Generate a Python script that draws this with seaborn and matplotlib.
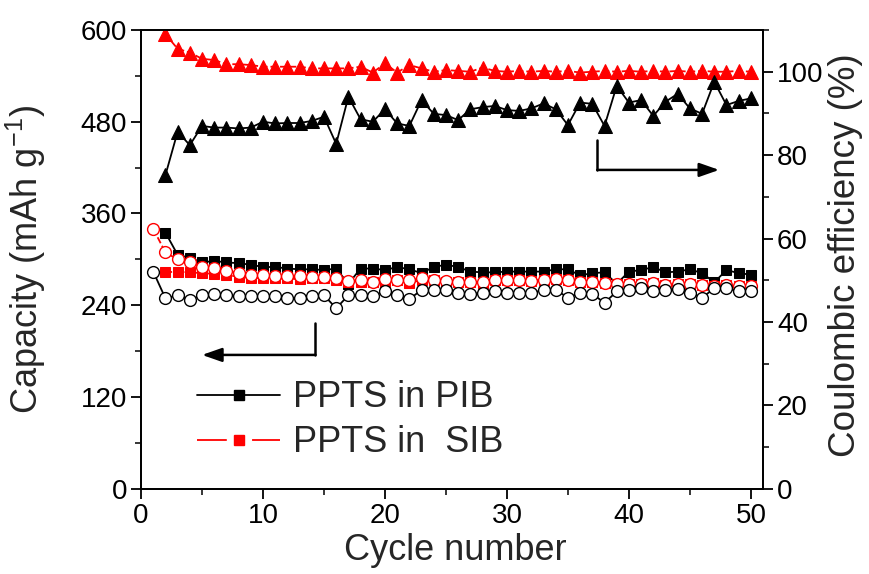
import matplotlib
matplotlib.use("Agg")
import matplotlib.pyplot as plt
from matplotlib.lines import Line2D
from matplotlib.ticker import MultipleLocator
import seaborn as sns
import numpy as np

sns.set_theme(style="white")
plt.rcParams['font.family'] = ['Liberation Sans', 'DejaVu Sans']
plt.rcParams['mathtext.fontset'] = 'custom'
plt.rcParams['mathtext.rm'] = 'Liberation Sans'

# ---------------- data ----------------
cycles_all = list(range(1, 51))
cycles_from2 = list(range(2, 51))

# PIB (black)
pib_charge = [335, 306, 302, 296, 298, 296, 295, 293, 290, 290, 288, 287, 287, 286, 288, 268,
              288, 288, 286, 290, 287, 282, 290, 293, 290, 284, 283, 283, 284, 284, 284, 284,
              287, 287, 279, 282, 283, 268, 284, 286, 290, 283, 284, 287, 282, 270, 286, 282, 280]
pib_discharge = [284, 249, 253, 247, 253, 255, 253, 252, 252, 252, 252, 250, 249, 252, 253, 236,
                 253, 253, 252, 258, 253, 248, 260, 260, 260, 256, 255, 256, 258, 256, 256, 256,
                 260, 260, 250, 256, 255, 243, 258, 260, 263, 258, 260, 261, 256, 250, 262, 262,
                 258, 258]
pib_ce = [75.2, 85.6, 82.4, 87.0, 86.6, 86.6, 86.4, 86.6, 88.0, 87.6, 87.7, 87.7, 88.2, 89.2,
          82.7, 94.0, 88.6, 88.0, 91.0, 87.6, 87.0, 93.2, 89.9, 89.6, 88.4, 91.0, 91.5, 91.8,
          90.8, 90.6, 91.2, 92.4, 91.0, 87.2, 92.6, 92.3, 87.0, 96.6, 92.6, 93.2, 89.4, 92.8,
          94.7, 91.2, 89.9, 97.6, 92.0, 93.0, 93.6]

# SIB (red)
sib_charge = [283, 284, 283, 282, 281, 280, 277, 276, 275, 275, 275, 274, 275, 275, 273, 270,
              270, 271, 269, 273, 269, 273, 273, 271, 271, 270, 268, 273, 273, 273, 272, 273,
              274, 273, 271, 271, 269, 268, 268, 268, 269, 266, 268, 268, 266, 265, 266, 265, 265]
sib_discharge = [340, 309, 300, 296, 290, 289, 285, 282, 280, 279, 278, 278, 278, 277, 277, 275,
                 272, 273, 271, 274, 273, 273, 275, 273, 272, 271, 270, 271, 273, 273, 273, 272,
                 273, 274, 273, 271, 271, 269, 268, 268, 268, 269, 266, 268, 268, 266, 265, 266,
                 265, 265]
sib_ce = [109.0, 105.5, 104.6, 103.1, 102.8, 101.8, 101.8, 101.6, 101.2, 101.2, 101.2, 101.2,
          100.8, 100.8, 100.8, 100.8, 101.2, 99.8, 102.0, 99.8, 101.6, 100.8, 100.0, 100.4,
          100.2, 100.0, 101.0, 100.2, 100.0, 100.2, 100.0, 100.2, 100.0, 100.2, 99.8, 100.0,
          100.2, 100.0, 100.2, 100.0, 100.2, 100.0, 100.2, 100.0, 100.2, 100.0, 100.0, 100.2,
          100.0]

legend_labels = ["PPTS in PIB", "PPTS in  SIB"]

# ---------------- figure ----------------
fig = plt.figure(figsize=(8.69, 5.74), dpi=100)
ax = fig.add_axes([0.1623, 0.1486, 0.7158, 0.7991])
ax2 = ax.twinx()

lw = 1.3
# capacity series
sns.lineplot(x=cycles_from2, y=pib_charge, ax=ax, color='black', marker='s', markersize=7.5,
             markeredgecolor='black', linewidth=lw, zorder=3)
sns.lineplot(x=cycles_from2, y=sib_charge, ax=ax, color='red', marker='s', markersize=7.5,
             markeredgecolor='red', linewidth=lw, linestyle='--', zorder=4)
sns.lineplot(x=cycles_all, y=sib_discharge, ax=ax, color='red', marker='o', markersize=8.5,
             markerfacecolor='white', markeredgecolor='red', markeredgewidth=1.0,
             linewidth=lw, linestyle='--', zorder=5)
sns.lineplot(x=cycles_all, y=pib_discharge, ax=ax, color='black', marker='o', markersize=8.5,
             markerfacecolor='white', markeredgecolor='black', markeredgewidth=1.0,
             linewidth=lw, zorder=6)

# coulombic efficiency
sns.lineplot(x=cycles_from2, y=sib_ce, ax=ax2, color='red', marker='^', markersize=10,
             markeredgecolor='red', linewidth=lw, linestyle='--')
sns.lineplot(x=cycles_from2, y=pib_ce, ax=ax2, color='black', marker='^', markersize=10,
             markeredgecolor='black', linewidth=lw)

# axes ranges / ticks
ax.set_xlim(0, 51)
ax.set_ylim(0, 600)
ax2.set_ylim(0, 110)
ax.xaxis.set_major_locator(MultipleLocator(10))
ax.xaxis.set_minor_locator(MultipleLocator(5))
ax.yaxis.set_major_locator(MultipleLocator(120))
ax.yaxis.set_minor_locator(MultipleLocator(60))
ax2.yaxis.set_major_locator(MultipleLocator(20))
ax2.yaxis.set_minor_locator(MultipleLocator(10))

for a in (ax, ax2):
    for s in a.spines.values():
        s.set_linewidth(1.3)
        s.set_color('black')
    a.grid(False)

ax.tick_params(axis='both', which='major', direction='out', length=7, width=1.3,
               labelsize=20, colors='black', pad=3)
ax.tick_params(axis='both', which='minor', direction='out', length=4, width=1.3)
ax.tick_params(axis='x', which='both', top=False, bottom=True)
ax.tick_params(axis='y', which='both', left=True, right=False)
ax2.tick_params(axis='y', which='major', direction='out', length=7, width=1.3,
                labelsize=20, colors='black', right=True, pad=3)
ax2.tick_params(axis='y', which='minor', direction='out', length=4, width=1.3, right=True)

ax.set_xlabel("Cycle number", fontsize=26)
ax.set_ylabel(r"Capacity (mAh g$^{\mathregular{-1}}$)", fontsize=26)
ax2.set_ylabel("Coulombic efficiency (%)", fontsize=26.5)
ax.xaxis.set_label_coords(0.506, -0.097)
ax.yaxis.set_label_coords(-0.150, 0.50)
ax2.yaxis.set_label_coords(1.105, 0.51)

# arrows
ax.plot([14.3, 14.3], [217, 175], color='black', lw=1.8, zorder=7)
ax.annotate('', xy=(5.0, 175), xytext=(14.3, 175),
            arrowprops=dict(arrowstyle='-|>,head_length=1.0,head_width=0.35', color='black',
                            lw=1.8, shrinkA=0, shrinkB=0), zorder=7)
ax.plot([37.4, 37.4], [456, 417], color='black', lw=1.8, zorder=7)
ax.annotate('', xy=(47.4, 417), xytext=(37.4, 417),
            arrowprops=dict(arrowstyle='-|>,head_length=1.0,head_width=0.35', color='black',
                            lw=1.8, shrinkA=0, shrinkB=0), zorder=7)

# legend
handles = [Line2D([0], [0], color='black', lw=1.3, marker='s', markersize=7),
           Line2D([0], [0], color='red', lw=1.3, ls=(0, (16.5, 14)), marker='s', markersize=7)]
ax.legend(handles, legend_labels, loc='lower left', bbox_to_anchor=(0.067, 0.03), frameon=False,
          fontsize=26, handlelength=2.3, handletextpad=0.36, labelspacing=0.28,
          borderaxespad=0)

fig.savefig("out.png", dpi=100)
